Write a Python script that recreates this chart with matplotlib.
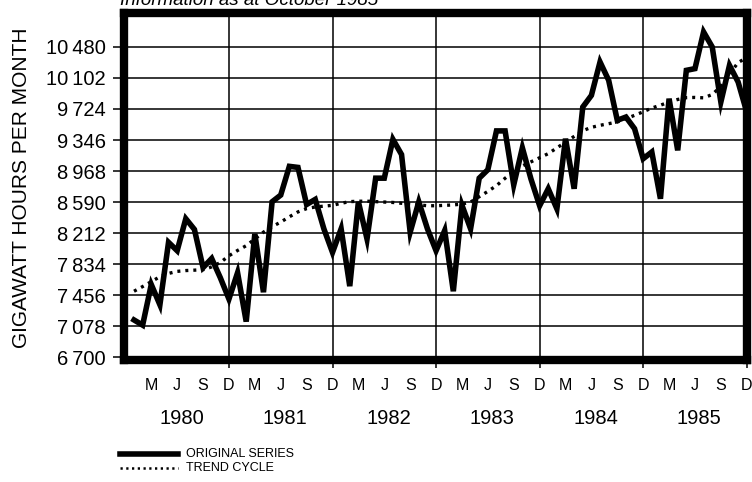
import matplotlib
matplotlib.use("Agg")
import matplotlib.pyplot as plt
from matplotlib.lines import Line2D
import numpy as np

plt.rcParams['font.family'] = ['Liberation Sans', 'DejaVu Sans']

# ---- data ----
original = [7153, 7090, 7585, 7338, 8099, 7997, 8387, 8256, 7791, 7902, 7668, 7408,
            7729, 7133, 8202, 7491, 8593, 8675, 9025, 9012, 8560, 8622, 8264, 7976,
            8264, 7565, 8593, 8140, 8881, 8881, 9354, 9169, 8223, 8593, 8264, 7997,
            8243, 7503, 8552, 8264, 8881, 8984, 9457, 9457, 8799, 9251, 8870, 8545,
            8752, 8508, 9362, 8752, 9748, 9890, 10297, 10074, 9586, 9626, 9484, 9118,
            9200, 8630, 9850, 9220, 10195, 10216, 10663, 10480, 9809, 10256, 10053, 9687]
trend = [7503, 7560, 7620, 7680, 7720, 7745, 7755, 7760, 7765, 7800, 7853, 7935,
         8000, 8058, 8140, 8223, 8290, 8346, 8410, 8470, 8510, 8530, 8540, 8550,
         8575, 8595, 8600, 8600, 8595, 8590, 8585, 8575, 8565, 8555, 8545, 8545,
         8550, 8555, 8565, 8590, 8655, 8720, 8790, 8880, 8960, 9030, 9080, 9130,
         9180, 9250, 9320, 9390, 9460, 9500, 9525, 9545, 9565, 9605, 9647, 9690,
         9736, 9770, 9809, 9840, 9862, 9865, 9860, 9900, 10000, 10150, 10290, 10350]
years = ['1980', '1981', '1982', '1983', '1984', '1985']
quarter_labels = ['M', 'J', 'S', 'D']
y_ticks = [6700, 7078, 7456, 7834, 8212, 8590, 8968, 9346, 9724, 10102, 10480]
y_tick_labels = ['6\u2009700', '7\u2009078', '7\u2009456', '7\u2009834', '8\u2009212',
                 '8\u2009590', '8\u2009968', '9\u2009346', '9\u2009724', '10\u2009102',
                 '10\u2009480']
y_label = 'GIGAWATT HOURS PER MONTH'
legend_labels = ['ORIGINAL SERIES', 'TREND CYCLE']
header = 'Information as at October 1985'

months = np.arange(len(original))

W, H = 752, 482
fig = plt.figure(figsize=(W / 100, H / 100), dpi=100)
ax = fig.add_axes([124 / W, 1 - 360 / H, (747 - 124) / W, (360 - 12.5) / H])

ax.set_xlim(-1.16, 71.03)
ax.set_ylim(6665, 10900)

# grid
for v in y_ticks:
    ax.axhline(v, color='black', lw=1.1, zorder=1)
dec_pos = [11 + 12 * k for k in range(len(years))]
for p in dec_pos[:-1]:
    ax.axvline(p, color='black', lw=1.1, zorder=1)

ax.plot(months, trend, color='black', lw=2.4, linestyle=(0, (0.9, 1.5)),
        zorder=2)
ax.plot(months, original, color='black', lw=4.0, solid_joinstyle='miter',
        zorder=3)

for s in ax.spines.values():
    s.set_linewidth(6)
    s.set_zorder(5)

ax.set_yticks(y_ticks)
ax.set_yticklabels(y_tick_labels, fontsize=14.5)
ax.tick_params(axis='y', length=8, width=1.1, pad=5)

ax.xaxis.remove_overlapping_locs = False
ax.set_xticks(dec_pos)
ax.set_xticklabels([''] * len(dec_pos))
ax.tick_params(axis='x', which='major', length=6, width=1.1)
q_pos = [2 + 3 * k for k in range(24)]
ax.set_xticks(q_pos, minor=True)
ax.set_xticklabels([quarter_labels[k % 4] for k in range(24)], minor=True,
                   fontsize=11.5)
ax.tick_params(axis='x', which='minor', length=0, pad=13)

for k, yr in enumerate(years):
    ax.text(5.5 + 12 * k, -0.167, yr, transform=ax.get_xaxis_transform(),
            ha='center', va='center', fontsize=14.5)

fig.text(22 / W, 1 - 188 / H, y_label, rotation=90, ha='center', va='center',
         fontsize=15)

fig.text(120 / W, 1 - 5 / H, header, ha='left', va='baseline', fontsize=13.5,
         style='italic')

# legend
fig.add_artist(Line2D([120 / W, 178 / W], [1 - 454 / H, 1 - 454 / H],
                      color='black', lw=4.0))
fig.add_artist(Line2D([120 / W, 178 / W], [1 - 468 / H, 1 - 468 / H],
                      color='black', lw=1.8, linestyle=(0, (0.9, 1.4))))
fig.text(186 / W, 1 - 454 / H, legend_labels[0], ha='left', va='center',
         fontsize=9)
fig.text(186 / W, 1 - 468 / H, legend_labels[1], ha='left', va='center',
         fontsize=9)

fig.savefig('out.png', dpi=100)
